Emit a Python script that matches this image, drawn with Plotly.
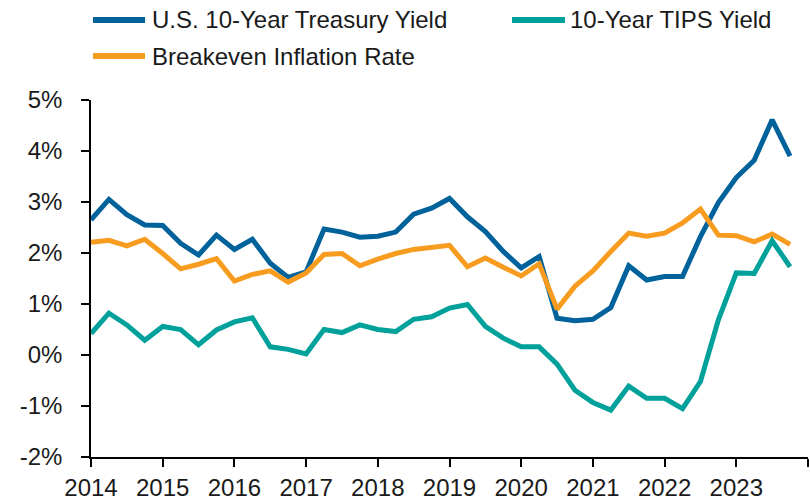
import plotly.graph_objects as go

# Quarterly dates from 2014 Q1 to 2023 Q4 (as decimal years)
quarters = [2014 + 0.25 * i for i in range(40)]

treasury = [2.65, 3.05, 2.75, 2.55, 2.54, 2.19, 1.96, 2.35, 2.07, 2.27,
            1.80, 1.52, 1.63, 2.47, 2.41, 2.31, 2.33, 2.41, 2.76, 2.88,
            3.07, 2.71, 2.42, 2.03, 1.71, 1.93, 0.72, 0.67, 0.70, 0.93,
            1.75, 1.47, 1.54, 1.54, 2.32, 2.99, 3.48, 3.82, 4.61, 3.90]

tips = [0.42, 0.82, 0.59, 0.29, 0.56, 0.50, 0.20, 0.49, 0.65, 0.73,
        0.16, 0.11, 0.02, 0.50, 0.44, 0.59, 0.50, 0.46, 0.70, 0.75,
        0.92, 0.99, 0.56, 0.33, 0.16, 0.16, -0.18, -0.69, -0.93, -1.08,
        -0.61, -0.85, -0.85, -1.05, -0.52, 0.69, 1.61, 1.60, 2.24, 1.73]

breakeven = [2.21, 2.25, 2.14, 2.27, 1.99, 1.69, 1.78, 1.89, 1.45, 1.58,
             1.65, 1.43, 1.61, 1.97, 1.99, 1.75, 1.88, 1.99, 2.07, 2.12,
             2.15, 1.73, 1.90, 1.72, 1.55, 1.79, 0.90, 1.35, 1.65, 2.03,
             2.39, 2.33, 2.39, 2.59, 2.86, 2.35, 2.34, 2.22, 2.37, 2.17]

series_names = ["U.S. 10-Year Treasury Yield", "10-Year TIPS Yield", "Breakeven Inflation Rate"]
colors = ["#00629B", "#00A19B", "#F89C1F"]

year_ticks = list(range(2014, 2025))
year_labels = [str(y) for y in range(2014, 2024)] + [""]
y_ticks = [-2, -1, 0, 1, 2, 3, 4, 5]
y_labels = [f"{v}%" for v in y_ticks]

fig = go.Figure()
for name, vals, col in [(series_names[0], treasury, colors[0]),
                        (series_names[2], breakeven, colors[2]),
                        (series_names[1], tips, colors[1])]:
    fig.add_trace(go.Scatter(x=quarters, y=vals, mode="lines", name=name,
                             line=dict(color=col, width=5, shape="linear"),
                             showlegend=False))

FONT = "Liberation Sans, Arial, sans-serif"

# Legend drawn manually (paper coordinates of plot area)
L, R, T, B = 91, 2, 100, 45
W, H = 810 - L - R, 502 - T - B
def px(x):
    return (x - L) / W
def py(y):
    return (502 - B - y) / H

legend_items = [
    (series_names[0], colors[0], 93, 145, 150, 20),
    (series_names[1], colors[1], 512, 565, 568, 20),
    (series_names[2], colors[2], 93, 145, 150, 56),
]
for name, col, x0, x1, tx, yy in legend_items:
    fig.add_shape(type="line", xref="paper", yref="paper",
                  x0=px(x0), x1=px(x1), y0=py(yy), y1=py(yy),
                  line=dict(color=col, width=6))
    fig.add_annotation(xref="paper", yref="paper", x=px(tx), y=py(yy),
                       text=name, showarrow=False, xanchor="left", yanchor="middle",
                       font=dict(family=FONT, size=24, color="#1a1a1a"))

fig.update_layout(
    width=810, height=502,
    margin=dict(l=L, r=R, t=T, b=B),
    paper_bgcolor="white", plot_bgcolor="white",
    font=dict(family=FONT, size=24, color="#1a1a1a"),
)
fig.update_xaxes(range=[2014, 2024], tickvals=year_ticks, ticktext=year_labels,
                 showgrid=False, zeroline=False, showline=True, linecolor="black",
                 linewidth=1.5, ticks="outside", ticklen=8, tickcolor="black",
                 tickwidth=1.5, tickfont=dict(size=24))
fig.update_yaxes(range=[-2, 5], tickvals=y_ticks, ticktext=y_labels,
                 showgrid=False, zeroline=False, showline=True, linecolor="black",
                 linewidth=1.5, ticks="outside", ticklen=8, tickcolor="black",
                 tickwidth=1.5, tickfont=dict(size=24), ticklabelstandoff=14)

fig.write_html("out.html", config={"displayModeBar": False},
               post_script="document.body.style.margin='0';")
